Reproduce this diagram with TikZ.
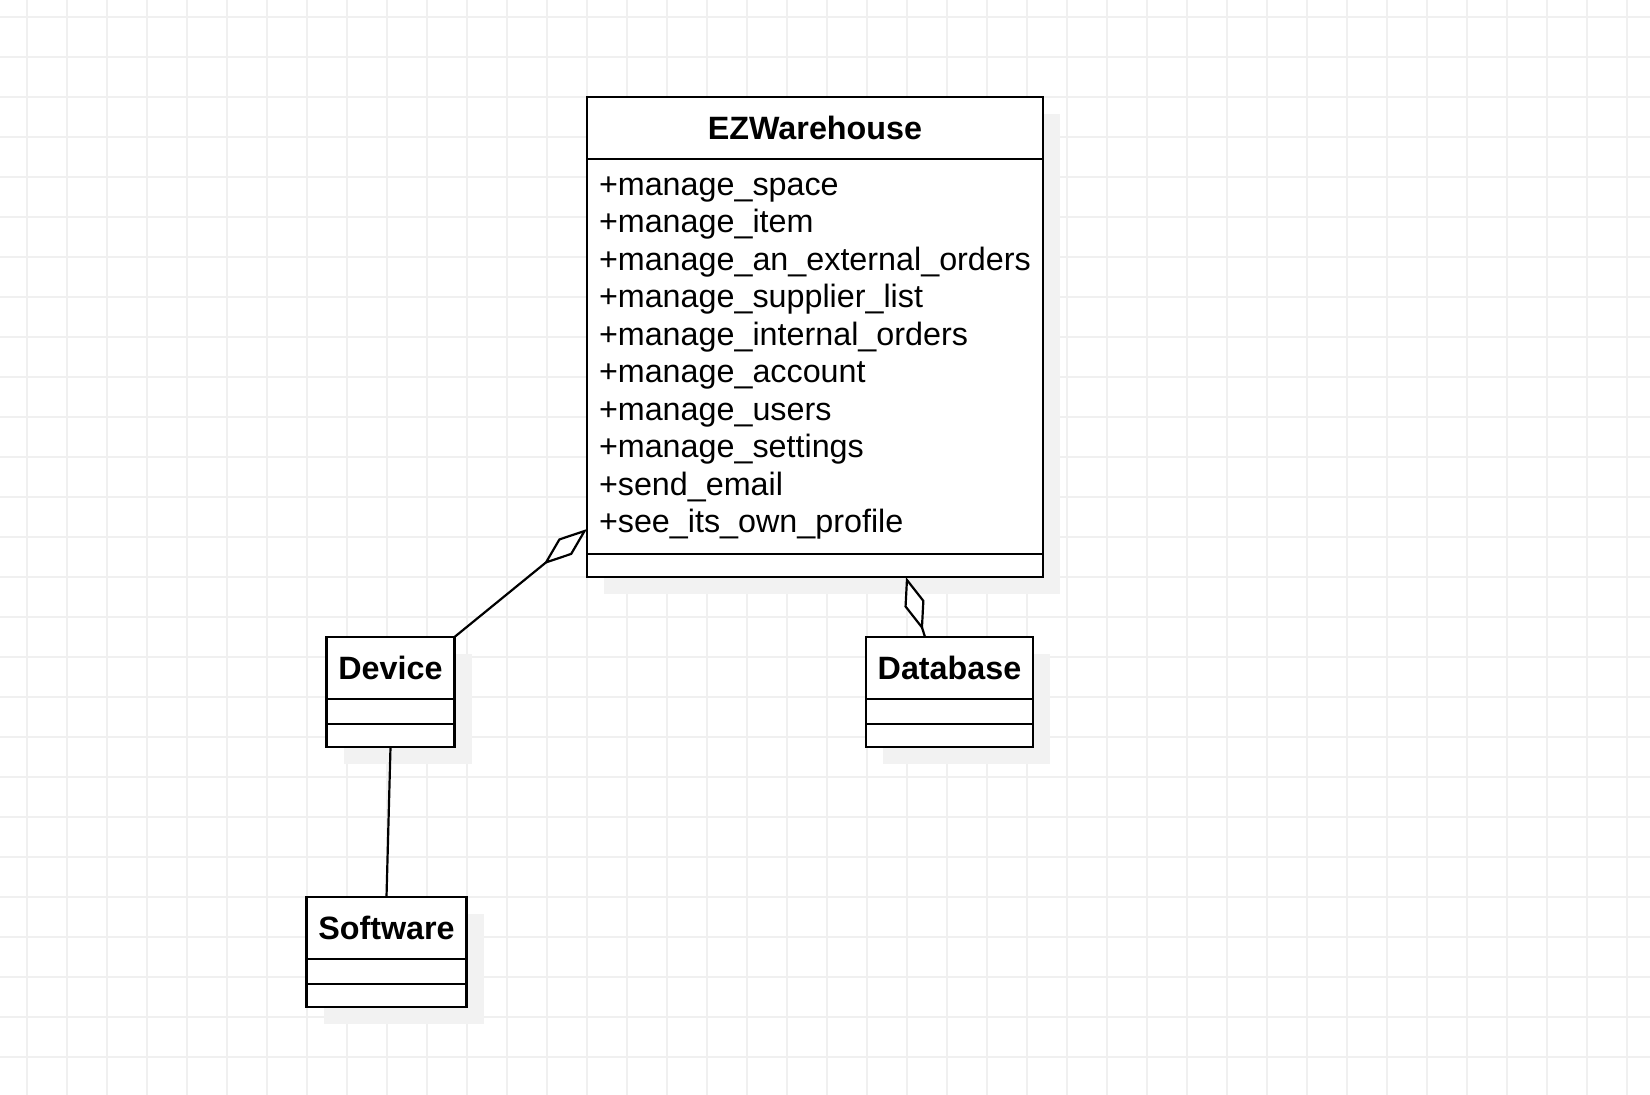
\documentclass[tikz,border=0pt]{standalone}
\usepackage{fontspec}
\setmainfont{Liberation Sans}
\usetikzlibrary{positioning}
\usetikzlibrary{calc}
\usetikzlibrary{shadows}
\usetikzlibrary{arrows.meta}
\tikzstyle{classhead} = [rectangle, draw, line width=1.2pt, fill=white, inner sep=0pt, outer sep=0pt, minimum height=31pt, text centered, font=\fontsize{16.15}{18.75}\selectfont\bfseries, drop shadow={shadow xshift=8.5pt, shadow yshift=-8.5pt, fill=black!5, opacity=1}]
\tikzstyle{classpart} = [rectangle, draw, line width=1.2pt, fill=white, inner sep=0pt, outer sep=0pt, font=\fontsize{16.15}{18.75}\selectfont, drop shadow={shadow xshift=8.5pt, shadow yshift=-8.5pt, fill=black!5, opacity=1}]
\tikzstyle{aggregation} = [line width=1.1pt, -{Diamond[fill=white, length=28pt, width=10.5pt]}]
\tikzstyle{association} = [line width=1.1pt]
\tikzstyle{gridline} = [line width=0.6pt, black!6]

\begin{document}
\begin{tikzpicture}[x=0.5pt, y=-0.5pt]

    % canvas and grid
    \useasboundingbox (0,0) rectangle (1650,1095);
    \fill[white] (0,0) rectangle (1650,1095);
    \foreach \gx in {27,67,...,1650}
        \draw[gridline] (\gx,0) -- (\gx,1095);
    \foreach \gy in {17,57,...,1095}
        \draw[gridline] (0,\gy) -- (1650,\gy);

    % EZWarehouse
    \node[classhead, minimum width=228pt] (ezwhead) at (815,128) {EZWarehouse};
    \node[classpart,
        below=0pt of ezwhead,
        minimum height=197.5pt,
        text width=216pt,
        inner xsep=6pt,
        align=left]
    (ezwattr) {
        \strut+manage\_space\\
        +manage\_item\\
        +manage\_an\_external\_orders\\
        +manage\_supplier\_list\\
        +manage\_internal\_orders\\
        +manage\_account\\
        +manage\_users\\
        +manage\_settings\\
        +send\_email\\
        +see\_its\_own\_profile\strut
    };
    \node[classpart, below=0pt of ezwattr, minimum width=228pt, minimum height=11.5pt] (ezwops) {};

    % Device
    \node[classhead, minimum width=64pt] (devhead) at (390.5,668) {Device};
    \node[classpart, below=0pt of devhead, minimum width=64pt, minimum height=12.5pt] (devattr) {};
    \node[classpart, below=0pt of devattr, minimum width=64pt, minimum height=11.5pt] (devops) {};

    % Database
    \node[classhead, minimum width=83.5pt] (dbhead) at (949.5,668) {Database};
    \node[classpart, below=0pt of dbhead, minimum width=83.5pt, minimum height=12.5pt] (dbattr) {};
    \node[classpart, below=0pt of dbattr, minimum width=83.5pt, minimum height=11.5pt] (dbops) {};

    % Software
    \node[classhead, minimum width=80pt] (swhead) at (386.5,928) {Software};
    \node[classpart, below=0pt of swhead, minimum width=80pt, minimum height=12.5pt] (swattr) {};
    \node[classpart, below=0pt of swattr, minimum width=80pt, minimum height=11.5pt] (swops) {};

    \draw [aggregation] (devhead.north east) -- ($(ezwattr.south west)+(0,12.5pt)$);
    \draw [aggregation] ($(dbhead.north)+(-12.25pt,0)$) -- ($(ezwops.south)+(45.5pt,0)$);
    \draw [association] (devops.south) -- (swhead.north);

\end{tikzpicture}
\end{document}
